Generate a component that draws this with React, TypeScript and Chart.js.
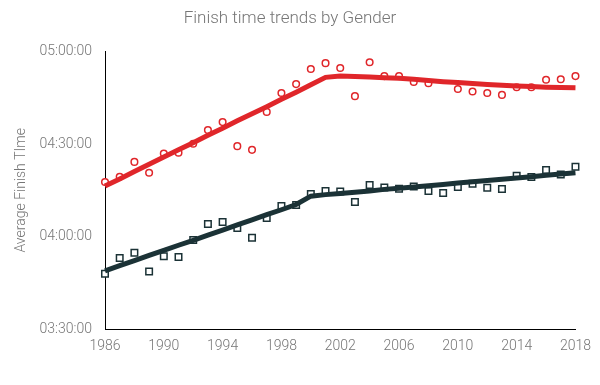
import { useEffect, useRef } from "react";
import { Chart, registerables } from "chart.js";

Chart.register(...registerables);

// Years of the race
const years = [
  1986, 1987, 1988, 1989, 1990, 1991, 1992, 1993, 1994, 1995, 1996, 1997, 1998,
  1999, 2000, 2001, 2002, 2003, 2004, 2005, 2006, 2007, 2008, 2009, 2010, 2011,
  2012, 2013, 2014, 2015, 2016, 2017, 2018,
];

// Average finish times, in minutes
const womenTimes: (number | null)[] = [
  257.7, 259.4, 264.2, 260.7, 266.9, 267.2, 270.1, 274.5, 277.1, 269.3, 268.1,
  280.4, 286.5, 289.4, 294.3, 296.2, 294.6, 285.5, 296.5, 292.0, 292.0, 290.1,
  289.7, null, 287.8, 287.0, 286.5, 285.9, 288.4, 288.4, 290.8, 291.0, 292.0,
];
const menTimes: (number | null)[] = [
  228.0, 233.1, 234.8, 228.7, 233.6, 233.4, 238.9, 244.1, 244.7, 242.8, 239.6,
  246.0, 249.9, 250.2, 253.8, 254.8, 254.6, 251.2, 256.7, 255.9, 255.5, 256.2,
  254.8, 254.1, 256.1, 257.1, 255.8, 255.4, 259.7, 259.3, 261.6, 260.1, 262.6,
];

// Smoothed trends, in minutes
const womenTrend = [
  256.4, 258.7, 261.1, 263.4, 265.8, 268.1, 270.4, 272.8, 275.1, 277.5, 279.8,
  282.1, 284.5, 286.8, 289.2, 291.6, 292.0, 291.9, 291.7, 291.5, 291.3, 291.0,
  290.6, 290.2, 289.9, 289.6, 289.3, 289.0, 288.8, 288.6, 288.4, 288.3, 288.2,
];
const menTrend = [
  228.9, 230.6, 232.2, 233.9, 235.5, 237.2, 238.8, 240.5, 242.1, 243.8, 245.4,
  247.1, 248.7, 250.4, 253.1, 253.6, 254.0, 254.4, 254.8, 255.3, 255.7, 256.1,
  256.5, 256.9, 257.4, 257.8, 258.2, 258.6, 259.0, 259.4, 259.9, 260.3, 260.7,
];

const yTickMin = 210;
const yTickMax = 300;
const yTickStep = 30;
const xTickStep = 4;

const titleText = "Finish time trends by Gender";
const yTitleText = "Average Finish TIme";

const RED = "#e0262a";
const DARK = "#1b3236";
const TEXT = "#767676";
const FONT = "Roboto";

function fmt(min: number): string {
  const total = Math.round(min * 60);
  const h = Math.floor(total / 3600);
  const m = Math.floor((total % 3600) / 60);
  const s = total % 60;
  const p = (n: number) => String(n).padStart(2, "0");
  return `${p(h)}:${p(m)}:${p(s)}`;
}

function pts(vals: (number | null)[]) {
  return years.map((y, i) => ({ x: y, y: vals[i] as any }));
}

export default function App() {
  const ref = useRef<HTMLCanvasElement>(null);
  useEffect(() => {
    document.body.style.margin = "0";
    const chart = new Chart(ref.current!, {
      type: "scatter",
      data: {
        datasets: [
          {
            label: "Women trend",
            data: pts(womenTrend),
            showLine: true,
            borderColor: RED,
            borderWidth: 5,
            pointRadius: 0,
            tension: 0,
            order: 0,
            clip: false as any,
          },
          {
            label: "Men trend",
            data: pts(menTrend),
            showLine: true,
            borderColor: DARK,
            borderWidth: 5,
            pointRadius: 0,
            tension: 0,
            order: 0,
            clip: false as any,
          },
          {
            label: "Women",
            data: pts(womenTimes),
            pointStyle: "circle",
            pointRadius: 3.3,
            borderWidth: 1.5,
            borderColor: RED,
            backgroundColor: "#ffffff",
            order: 1,
            clip: false as any,
          },
          {
            label: "Men",
            data: pts(menTimes),
            pointStyle: "rect",
            pointRadius: 4.6,
            borderWidth: 1.5,
            borderColor: DARK,
            backgroundColor: "#ffffff",
            order: 1,
            clip: false as any,
          },
        ],
      },
      options: {
        animation: false,
        responsive: true,
        maintainAspectRatio: false,
        layout: { padding: { left: 0, right: 20, top: 0, bottom: 21 } },
        plugins: {
          legend: { display: false },
          tooltip: { enabled: false },
          title: {
            display: true,
            text: titleText,
            color: TEXT,
            font: { family: FONT, size: 17, weight: 300 as any },
            padding: { top: 9, bottom: 22 },
          },
        },
        scales: {
          x: {
            type: "linear",
            min: years[0],
            max: years[years.length - 1],
            grid: { display: false, drawTicks: false },
            border: { display: true, color: "#000", width: 1 },
            ticks: {
              stepSize: xTickStep,
              color: TEXT,
              font: { family: FONT, size: 14, weight: 300 as any },
              padding: 9,
              maxRotation: 0,
              autoSkip: false,
              callback: (v: any) => String(v),
            },
          },
          y: {
            min: yTickMin,
            max: yTickMax,
            afterFit: (s: any) => {
              s.width = 105;
            },
            grid: { display: false, drawTicks: false },
            border: { display: true, color: "#000", width: 1 },
            ticks: {
              stepSize: yTickStep,
              color: TEXT,
              font: { family: FONT, size: 14, weight: 300 as any },
              padding: 13,
              callback: (v: any) => fmt(Number(v)),
            },
            title: {
              display: true,
              text: yTitleText,
              color: TEXT,
              font: { family: FONT, size: 14, weight: 300 as any },
              padding: { top: 13, bottom: 0 },
            },
          },
        },
      },
    });
    return () => chart.destroy();
  }, []);
  return (
    <div style={{ position: "relative", width: 600, height: 385 }}>
      <canvas ref={ref} />
    </div>
  );
}
